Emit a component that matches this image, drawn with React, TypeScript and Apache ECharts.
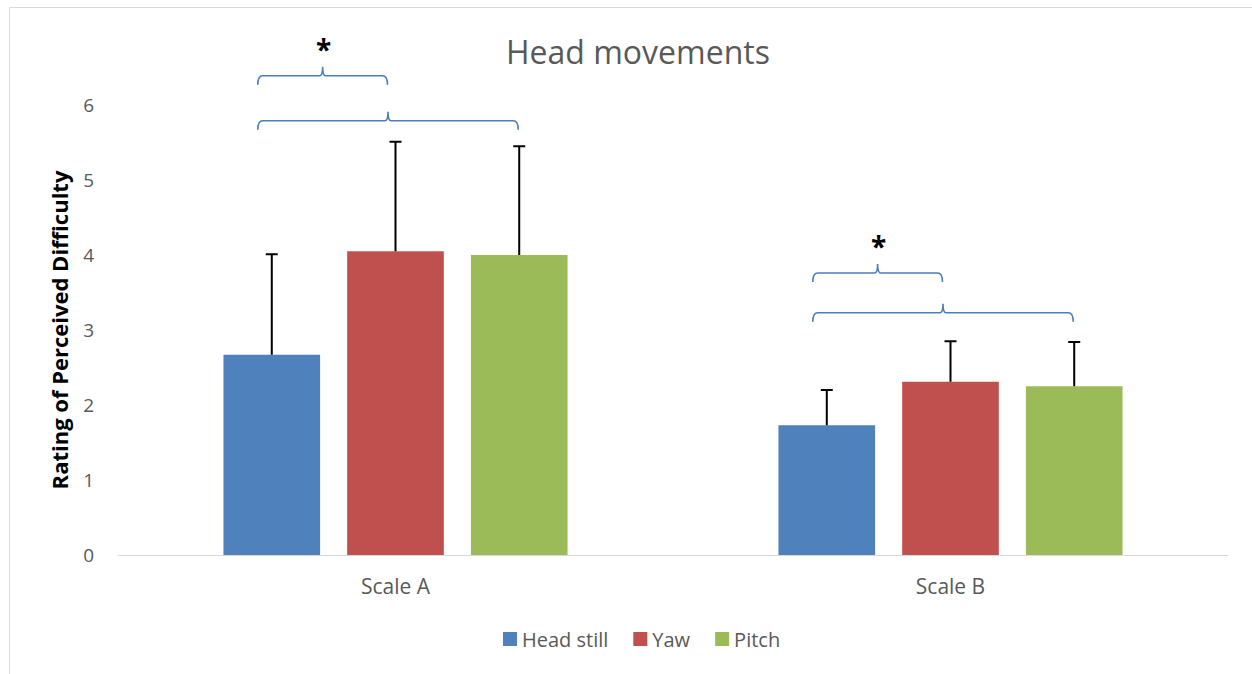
import React, { useEffect, useRef } from "react";
import * as echarts from "echarts";

const categories = ["Scale A", "Scale B"];
const seriesNames = ["Head still", "Yaw", "Pitch"];
const headStill = [2.67, 1.73];
const yaw = [4.05, 2.31];
const pitch = [4.0, 2.25];
const headStillErr = [1.34, 0.47];
const yawErr = [1.46, 0.54];
const pitchErr = [1.45, 0.59];
const yTicks = [0, 1, 2, 3, 4, 5, 6];
// brackets: [categoryIndex, fromSeries, toSeries, yValue, label]
const brackets: [number, number, number, number, string][] = [
  [0, 0, 1, 6.39, "*"],
  [0, 0, 2, 5.79, ""],
  [1, 0, 1, 3.76, "*"],
  [1, 0, 2, 3.23, ""],
];

const colors = ["#4F81BD", "#C0504D", "#9BBB59"];
const FONT = "'Open Sans', sans-serif";
const CAT_GAP = 0.38;
const BAR_GAP = 0.28;
const END_OFF = [-14, -8, -1];

function barCenter(api: any, cat: number, s: number, val: number) {
  const c = api.coord([cat, val]);
  const band = api.size([1, 0])[0];
  const bw = (band * (1 - CAT_GAP)) / (3 + 2 * BAR_GAP);
  const x = c[0] + (s - 1) * bw * (1 + BAR_GAP);
  return [x, c[1]];
}

export default function App() {
  const ref = useRef<HTMLDivElement>(null);
  useEffect(() => {
    if (!ref.current) return;
    const chart = echarts.init(ref.current, undefined, { renderer: "svg" });
    const values = [headStill, yaw, pitch];
    const errs = [headStillErr, yawErr, pitchErr];
    const errData: number[][] = [];
    values.forEach((vals, s) =>
      vals.forEach((v, c) => errData.push([c, v, v + errs[s][c], s]))
    );

    chart.setOption({
      animation: false,
      color: colors,
      title: {
        text: "Head movements",
        left: 501,
        top: 30,
        textStyle: { fontFamily: FONT, fontSize: 32, fontWeight: "normal", color: "#595959" },
      },
      legend: {
        data: seriesNames,
        top: 624,
        left: 498,
        itemWidth: 14,
        itemHeight: 14,
        itemGap: 25,
        icon: "rect",
        textStyle: { fontFamily: FONT, fontSize: 20, color: "#595959" },
      },
      grid: { left: 118, right: 24, top: 105, bottom: 119 },
      xAxis: {
        type: "category",
        data: categories,
        axisLine: { lineStyle: { color: "#D9D9D9", width: 1 } },
        axisTick: { show: false },
        axisLabel: { fontFamily: FONT, fontSize: 21, color: "#595959", margin: 20 },
      },
      yAxis: {
        type: "value",
        min: 0,
        max: 6,
        interval: 1,
        name: "Rating of Perceived Difficulty",
        nameLocation: "middle",
        nameGap: 48,
        nameTextStyle: { fontFamily: FONT, fontSize: 22, fontWeight: "bold", color: "#000" },
        axisLine: { show: false },
        axisTick: { show: false },
        splitLine: { show: false },
        axisLabel: {
          fontFamily: FONT,
          fontSize: 19,
          color: "#595959",
          margin: 24,
          formatter: (v: number) => (yTicks.includes(v) ? String(v) : ""),
        },
      },
      series: [
        ...seriesNames.map((name, s) => ({
          name,
          type: "bar",
          data: values[s],
          barCategoryGap: CAT_GAP * 100 + "%",
          barGap: BAR_GAP * 100 + "%",
          itemStyle: { color: colors[s] },
        })),
        {
          type: "custom",
          data: errData,
          z: 5,
          silent: true,
          renderItem: (params: any, api: any) => {
            const cat = api.value(0);
            const lo = api.value(1);
            const hi = api.value(2);
            const s = api.value(3);
            const p1 = barCenter(api, cat, s, lo);
            const p2 = barCenter(api, cat, s, hi);
            const st = { stroke: "#000", lineWidth: 2 };
            return {
              type: "group",
              children: [
                { type: "line", shape: { x1: p1[0], y1: p1[1], x2: p2[0], y2: p2[1] }, style: st },
                { type: "line", shape: { x1: p2[0] - 6, y1: p2[1], x2: p2[0] + 6, y2: p2[1] }, style: st },
              ],
            };
          },
        },
        {
          type: "custom",
          data: brackets.map((b) => [b[0], b[1], b[2], b[3]]),
          z: 6,
          silent: true,
          renderItem: (params: any, api: any) => {
            const cat = api.value(0);
            const from = api.value(1);
            const to = api.value(2);
            const yv = api.value(3);
            const a = barCenter(api, cat, from, yv);
            const b = barCenter(api, cat, to, yv);
            const x1 = a[0] + END_OFF[from];
            const x2 = b[0] + END_OFF[to];
            const y = a[1];
            const xm = (x1 + x2) / 2;
            const d =
              `M${x1},${y + 9} Q${x1},${y} ${x1 + 5},${y} L${xm - 3},${y} ` +
              `Q${xm},${y} ${xm},${y - 9} Q${xm},${y} ${xm + 3},${y} ` +
              `L${x2 - 5},${y} Q${x2},${y} ${x2},${y + 9}`;
            const children: any[] = [
              {
                type: "path",
                shape: { pathData: d },
                style: { stroke: "#4A7EBB", lineWidth: 1.6, fill: "none" },
              },
            ];
            const label = brackets[params.dataIndex][4];
            if (label) {
              children.push({
                type: "text",
                x: xm + 1,
                y: y - 27,
                style: {
                  text: label,
                  fontFamily: FONT,
                  fontSize: 28,
                  fontWeight: "bold",
                  fill: "#000",
                  align: "center",
                  verticalAlign: "middle",
                },
              });
            }
            return { type: "group", children };
          },
        },
      ],
      graphic: [
        { type: "line", shape: { x1: 9.5, y1: 7.5, x2: 1252, y2: 7.5 }, style: { stroke: "#D9D9D9", lineWidth: 1 } },
        { type: "line", shape: { x1: 9.5, y1: 7.5, x2: 9.5, y2: 674 }, style: { stroke: "#D9D9D9", lineWidth: 1 } },
      ],
    });
    return () => chart.dispose();
  }, []);
  return (
    <div
      ref={ref}
      style={{ position: "absolute", left: 0, top: 0, width: 1252, height: 674, background: "#fff" }}
    />
  );
}
